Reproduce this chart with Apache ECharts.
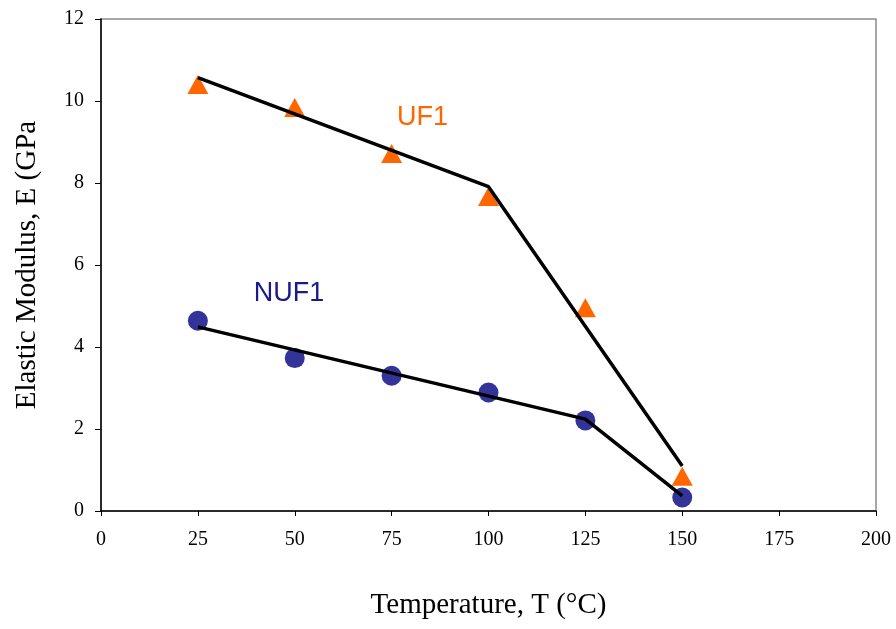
<!DOCTYPE html>
<html>
<head>
<meta charset="utf-8">
<script src="https://cdn.jsdelivr.net/npm/echarts@6/dist/echarts.min.js"></script>
<style>
  html, body { margin: 0; padding: 0; background: #fff; }
  #chart { width: 896px; height: 629px; }
</style>
</head>
<body>
<div id="chart"></div>
<script>
// Temperatures (°C) at which the modulus was measured
const temps = [25, 50, 75, 100, 125, 150];
// Measured elastic modulus (GPa)
const uf1 = [10.40, 9.84, 8.72, 7.67, 4.96, 0.85];
const nuf1 = [4.64, 3.73, 3.30, 2.89, 2.21, 0.33];
// Piecewise linear trend lines [T, E]
const uf1Trend = [[25, 10.57], [100, 7.91], [150, 1.10]];
const nuf1Trend = [[25, 4.49], [125, 2.24], [150, 0.37]];
// Series annotations
const uf1Label = { text: 'UF1', at: [83, 9.6] };
const nuf1Label = { text: 'NUF1', at: [48.5, 5.3] };

const serif = '"Liberation Serif", "Times New Roman", serif';
const sans = '"Liberation Sans", Arial, sans-serif';

const pair = (xs, ys) => xs.map((x, i) => [x, ys[i]]);

const chart = echarts.init(document.getElementById('chart'));
chart.setOption({
  animation: false,
  backgroundColor: '#fff',
  grid: {
    left: 101, top: 19, right: 20, bottom: 118,
    show: true, borderColor: '#8c8c8c', borderWidth: 1.5, backgroundColor: 'transparent'
  },
  xAxis: {
    type: 'value', min: 0, max: 200, interval: 25,
    name: 'Temperature, T (\u00B0C)', nameLocation: 'middle', nameGap: 80,
    nameTextStyle: { fontFamily: serif, fontSize: 29, color: '#000' },
    axisLine: { lineStyle: { color: '#000', width: 1.5 } },
    axisTick: { show: true, length: 5, lineStyle: { color: '#000' } },
    axisLabel: { fontFamily: serif, fontSize: 20, color: '#000', margin: 19 },
    splitLine: { show: false }
  },
  yAxis: {
    type: 'value', min: 0, max: 12, interval: 2,
    name: 'Elastic Modulus, E (GPa', nameLocation: 'middle', nameGap: 59,
    nameTextStyle: { fontFamily: serif, fontSize: 29, color: '#000' },
    axisLine: { show: true, lineStyle: { color: '#000', width: 1.5 } },
    axisTick: { show: true, length: 6, lineStyle: { color: '#000' } },
    axisLabel: { fontFamily: serif, fontSize: 20, color: '#000', margin: 17 },
    splitLine: { show: false }
  },
  series: [
    {
      type: 'line', data: uf1Trend, symbol: 'none', z: 3,
      lineStyle: { color: '#000', width: 3.5 }
    },
    {
      type: 'line', data: nuf1Trend, symbol: 'none', z: 3,
      lineStyle: { color: '#000', width: 3.5 }
    },
    {
      type: 'scatter', data: pair(temps, uf1), symbol: 'triangle', symbolSize: [21, 19], z: 2,
      itemStyle: { color: '#FF6600', opacity: 1 }
    },
    {
      type: 'scatter', data: pair(temps, nuf1), symbol: 'circle', symbolSize: 20, z: 2,
      itemStyle: { color: '#333399', opacity: 1 }
    },
    {
      type: 'scatter', symbolSize: 0, silent: true,
      data: [uf1Label.at],
      itemStyle: { opacity: 1 },
      label: { show: true, position: 'inside', formatter: uf1Label.text,
        fontFamily: sans, fontSize: 27, color: '#FF6600', opacity: 1 }
    },
    {
      type: 'scatter', symbolSize: 0, silent: true,
      data: [nuf1Label.at],
      itemStyle: { opacity: 1 },
      label: { show: true, position: 'inside', formatter: nuf1Label.text,
        fontFamily: sans, fontSize: 27, color: '#1a1a8c', opacity: 1 }
    }
  ]
});
</script>
</body>
</html>
